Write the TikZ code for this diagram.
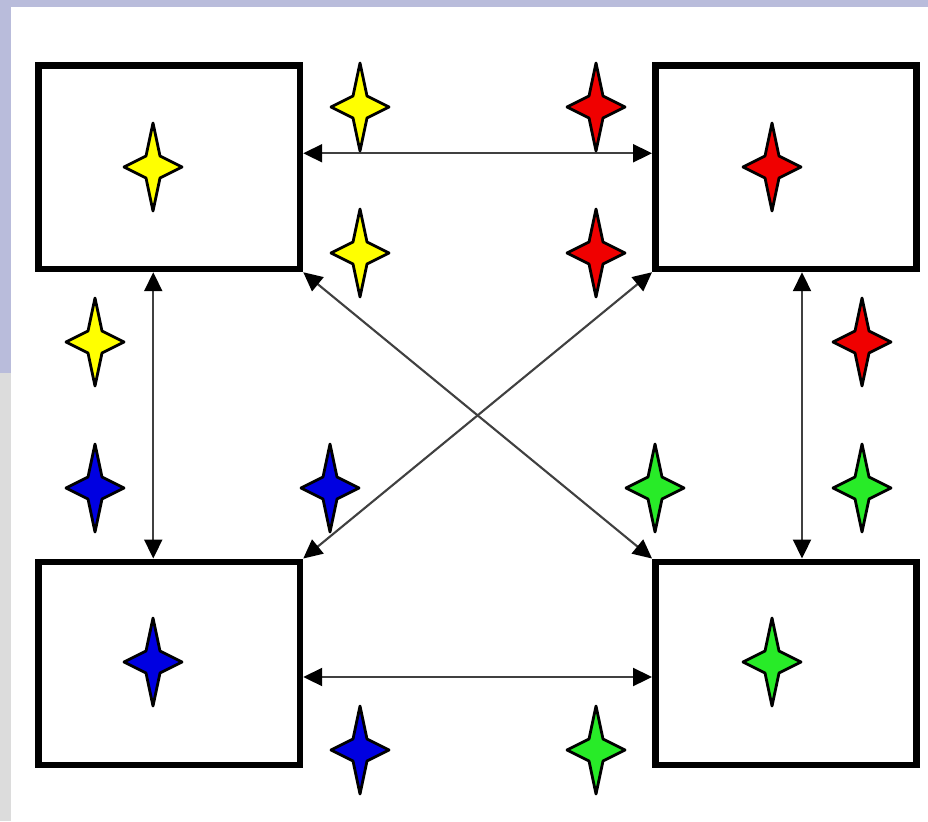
\documentclass[tikz,border=0pt]{standalone}
\usetikzlibrary{arrows.meta}
\definecolor{framelav}{RGB}{185,188,219}
\definecolor{framegray}{RGB}{220,220,220}
\definecolor{sparkyellow}{RGB}{255,255,0}
\definecolor{sparkred}{RGB}{240,0,0}
\definecolor{sparkblue}{RGB}{0,0,225}
\definecolor{sparkgreen}{RGB}{40,235,40}
\tikzset{
  panel/.style={draw=black, line width=3.7pt, minimum width=5.23cm, minimum height=4.07cm, inner sep=0pt},
  link/.style={line width=1.2pt, draw=black!75, {Triangle[length=0.38cm,width=0.36cm,color=black]}-{Triangle[length=0.38cm,width=0.36cm,color=black]}},
  spark/.style={draw=black, line width=1.6pt, line join=round},
  sparkle/.pic={\draw[spark, fill=#1] (0,44) -- (7,11) -- (29,0) -- (7,-11) -- (0,-44) -- (-7,-11) -- (-29,0) -- (-7,11) -- cycle;},
}

\begin{document}
\begin{tikzpicture}[x=0.02cm, y=-0.02cm]
\useasboundingbox (0,0) rectangle (928,821);
\fill[white] (0,0) rectangle (928,821);
\fill[framelav] (0,0) rectangle (928,7);
\fill[framelav] (0,0) rectangle (11,373);
\fill[framegray] (0,373) rectangle (11,821);
% the four panels
\node[panel] (tl) at (169.25,167.25) {};
\node[panel] (tr) at (786,167.25) {};
\node[panel] (bl) at (169.25,663.5) {};
\node[panel] (br) at (786,663.5) {};
% links between panels
\draw[link] ([yshift=0.28cm]tl.east) -- ([yshift=0.28cm]tr.west);
\draw[link] ([yshift=-0.27cm]bl.east) -- ([yshift=-0.27cm]br.west);
\draw[link] ([xshift=-0.32cm]tl.south) -- ([xshift=-0.32cm]bl.north);
\draw[link] ([xshift=0.32cm]tr.south) -- ([xshift=0.32cm]br.north);
\draw[link] (tl.south east) -- (br.north west);
\draw[link] (tr.south west) -- (bl.north east);
% sparkles
\foreach \x/\y in {360/107,153/167,360/253,95/342}
  \pic at (\x,\y) {sparkle=sparkyellow};
\foreach \x/\y in {596/107,772/167,596/253,862/342}
  \pic at (\x,\y) {sparkle=sparkred};
\foreach \x/\y in {95/488,330/488,153/662,360/750}
  \pic at (\x,\y) {sparkle=sparkblue};
\foreach \x/\y in {655/488,862/488,772/662,596/750}
  \pic at (\x,\y) {sparkle=sparkgreen};
\end{tikzpicture}
\end{document}
